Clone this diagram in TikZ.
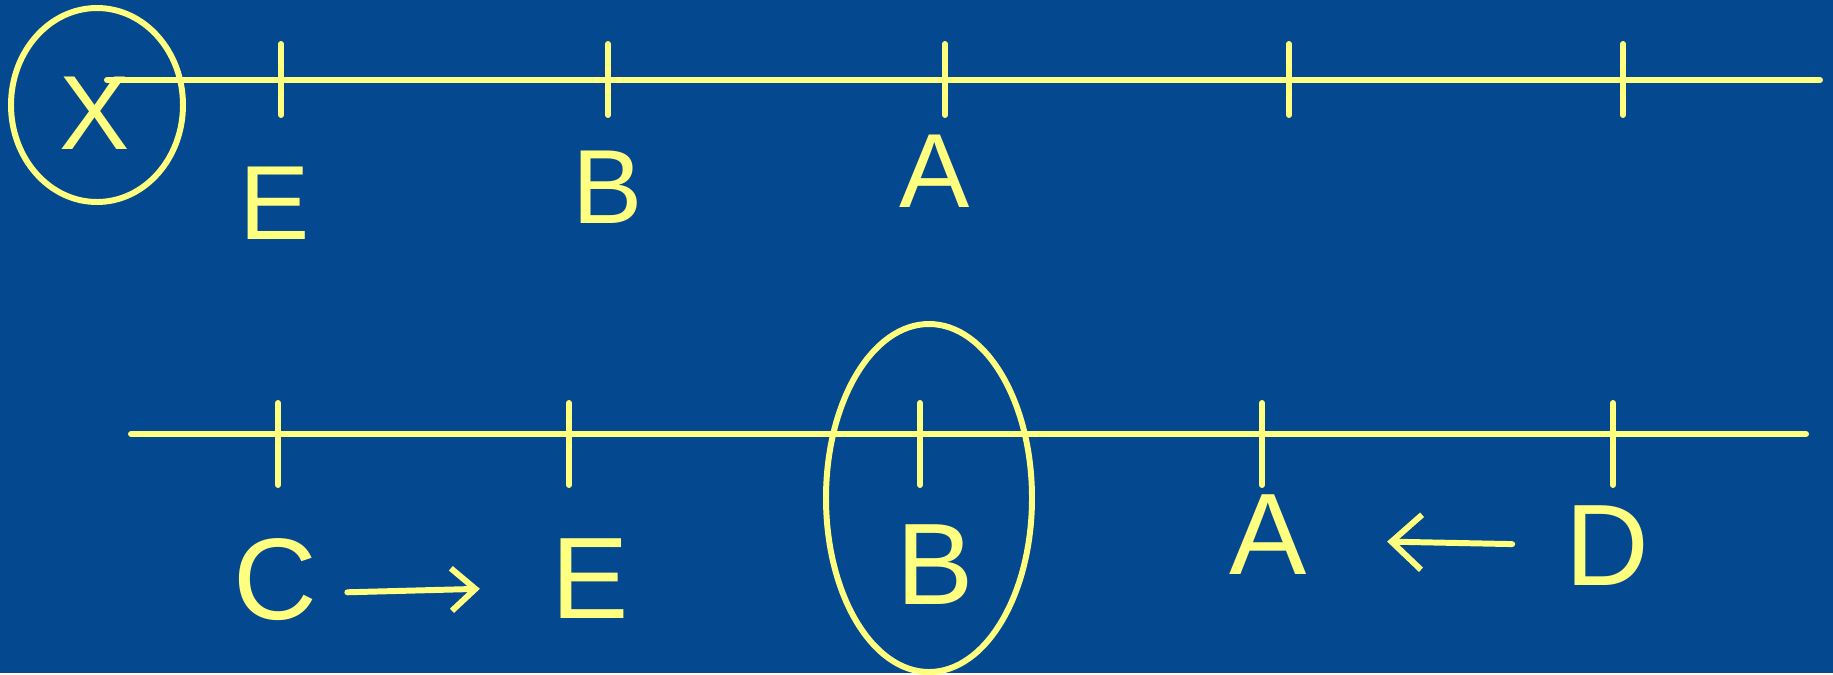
\documentclass[tikz,border=0pt]{standalone}
\usepackage{fontspec}
\setsansfont{Liberation Sans}
\usetikzlibrary{arrows.meta}
\definecolor{board}{RGB}{4,72,143}
\definecolor{chalk}{RGB}{255,255,128}
\tikzset{letter/.style={font=\fontsize{60}{66}\sffamily,text=chalk,inner sep=0pt}}

\begin{document}
\begin{tikzpicture}[x=0.02cm,y=-0.02cm,line width=3.4pt,line cap=round,draw=chalk,>={Straight Barb[length=0.6cm,width=1.1cm]}]

    \fill[board] (0,0) rectangle (1833,673);

    % upper line
    \begin{scope}
        \coordinate (tl) at (107,80);
        \coordinate (tr) at (1820,80);
        \draw (tl) -- (tr);
        \foreach \x in {281,608,945,1289,1623}
            \draw (\x,44) -- (\x,115);
        \draw (95,113) node[letter] (X) {X};
        \draw (275,203) node[letter] (E1) {E};
        \draw (608,187) node[letter] (B1) {B};
        \draw (935,171) node[letter] (A1) {A};
        \draw (97,105) ellipse [x radius=86, y radius=97];
    \end{scope}

    % lower line
    \begin{scope}[letter/.append style={font=\fontsize{66}{72}\sffamily}]
        \coordinate (bl) at (131,434);
        \coordinate (br) at (1806,434);
        \draw (bl) -- (br);
        \foreach \x in {278,569,920,1262,1613}
            \draw (\x,403) -- (\x,485);
        \draw (275,580) node[letter] (C) {C};
        \draw (590,579) node[letter] (E2) {E};
        \draw (935,565) node[letter] (B2) {B};
        \draw (1268,535) node[letter] (A2) {A};
        \draw (1607,546) node[letter] (D) {D};
        \draw[->,>={Straight Barb[length=0.48cm,width=0.85cm]},shorten <=0.55cm,shorten >=1.37cm]
            ([yshift=-0.26cm]C.east) -- ([yshift=-0.16cm]E2.west);
        \draw[->,shorten <=1.0cm,shorten >=1.55cm] (D) -- ([yshift=-0.1cm]A2.east);
        \draw (929,498) ellipse [x radius=103, y radius=174];
    \end{scope}

\end{tikzpicture}
\end{document}
